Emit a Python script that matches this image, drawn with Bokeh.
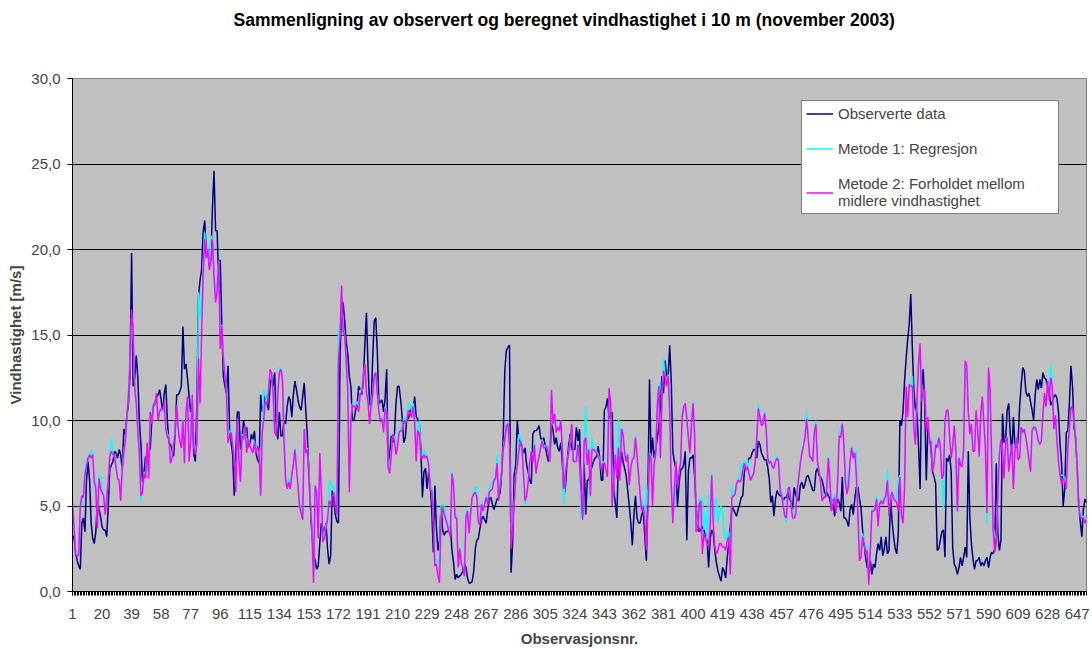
from bokeh.plotting import figure
from bokeh.models import Range1d, FixedTicker, CustomJSTickFormatter, Legend, LegendItem, Title
from bokeh.embed import file_html
from bokeh.resources import INLINE

title_text = "Sammenligning av observert og beregnet vindhastighet i 10 m (november 2003)"
x_label = "Observasjonsnr."
y_label = "Vindhastighet [m/s]"
series_names = ["Observerte data", "Metode 1: Regresjon",
                "Metode 2: Forholdet mellom\nmidlere vindhastighet"]
x_tick_values = [1, 20, 39, 58, 77, 96, 115, 134, 153, 172, 191, 210, 229, 248, 267, 286,
                 305, 324, 343, 362, 381, 400, 419, 438, 457, 476, 495, 514, 533, 552, 571,
                 590, 609, 628, 647]
y_tick_values = [0, 5, 10, 15, 20, 25, 30]

observed = [
    3.3, 3.1, 2.3, 1.8, 1.5, 1.3, 4.0, 4.3, 3.5, 6.5,
    7.6, 6.5, 4.0, 3.1, 2.8, 3.5, 5.3, 4.8, 4.4, 3.8,
    3.6, 3.6, 3.2, 5.0, 7.2, 7.4, 7.6, 8.2, 8.1, 7.8,
    8.3, 8.0, 7.1, 9.5, 9.2, 10.3, 11.0, 12.8, 19.8, 12.0,
    12.5, 13.8, 12.5, 10.0, 8.6, 6.4, 7.0, 7.9, 7.4, 8.1,
    8.4, 10.0, 10.8, 11.1, 11.3, 11.5, 11.8, 11.2, 10.5, 11.6,
    12.1, 10.0, 8.7, 8.6, 8.3, 7.9, 9.3, 11.5, 11.5, 11.7,
    12.0, 15.5, 13.0, 13.3, 12.4, 11.4, 10.5, 10.6, 8.0, 7.6,
    11.2, 17.2, 18.2, 18.8, 21.0, 21.7, 19.8, 20.0, 19.0, 19.5,
    22.5, 24.6, 21.1, 21.1, 18.0, 19.4, 15.5, 12.6, 12.0, 11.6,
    13.2, 9.5, 8.7, 8.0, 5.6, 8.0, 10.5, 10.5, 8.3, 9.0,
    10.0, 9.4, 9.6, 8.5, 8.6, 9.2, 8.9, 9.4, 8.1, 7.7,
    7.5, 11.5, 10.5, 11.0, 11.5, 11.1, 10.6, 12.0, 12.5, 12.0,
    12.8, 9.7, 8.9, 10.5, 9.1, 9.1, 10.0, 9.8, 10.8, 11.4,
    11.2, 10.2, 11.5, 12.3, 11.8, 11.2, 10.8, 10.6, 11.4, 12.2,
    10.6, 9.1, 7.0, 5.0, 3.2, 2.2, 1.8, 1.3, 1.5, 2.8,
    4.0, 3.7, 3.5, 4.0, 2.5, 1.6, 2.1, 5.9, 5.4, 4.5,
    4.1, 4.0, 13.5, 16.8, 16.9, 15.8, 14.6, 13.9, 12.6, 12.0,
    10.0, 10.0, 10.6, 10.9, 12.0, 11.8, 11.5, 12.3, 14.5, 16.3,
    13.2, 11.0, 10.8, 13.6, 15.8, 16.0, 14.0, 11.0, 11.1, 11.2,
    10.5, 11.3, 13.0, 7.5, 8.1, 9.1, 8.7, 9.2, 11.0, 12.0,
    12.0, 11.2, 10.2, 8.7, 9.0, 10.2, 10.1, 10.5, 10.8, 10.5,
    11.4, 10.2, 10.1, 9.8, 8.4, 5.5, 7.0, 7.2, 6.0, 7.0,
    6.3, 4.8, 2.3, 6.2, 3.7, 2.4, 3.0, 5.0, 3.6, 3.3,
    3.5, 3.5, 3.6, 3.8, 2.4, 1.7, 0.7, 1.0, 0.8, 0.9,
    1.0, 1.2, 1.6, 1.4, 0.8, 0.5, 0.5, 0.6, 1.2, 2.5,
    3.0, 3.1, 3.7, 4.2, 4.4, 4.2, 4.0, 4.8, 5.4, 5.5,
    5.1, 4.8, 5.1, 5.4, 5.5, 5.8, 7.0, 9.2, 13.0, 14.1,
    14.3, 14.4, 1.1, 2.8, 6.8, 7.4, 10.0, 8.8, 8.8, 8.4,
    8.1, 8.4, 7.4, 7.0, 6.5, 6.3, 9.2, 9.4, 9.4, 9.5,
    9.7, 9.0, 8.8, 9.0, 8.5, 8.0, 7.6, 8.0, 9.8, 9.4,
    8.6, 9.0, 8.4, 8.2, 8.7, 7.5, 5.5, 6.2, 7.6, 8.5,
    9.2, 8.3, 8.3, 8.3, 9.6, 8.8, 9.5, 6.0, 4.4, 7.5,
    4.5, 6.5, 6.5, 7.0, 7.3, 7.6, 7.8, 7.9, 8.5, 7.8,
    6.5, 6.5, 10.6, 10.8, 11.3, 10.2, 10.2, 10.5, 5.9, 5.2,
    4.3, 7.7, 6.9, 8.2, 7.6, 7.2, 6.8, 5.9, 5.0, 4.0,
    2.7, 4.5, 5.6, 4.3, 4.0, 4.0, 4.5, 4.7, 3.2, 1.8,
    5.9, 12.4, 7.9, 9.0, 7.8, 8.3, 9.0, 9.6, 10.7, 12.6,
    11.6, 13.5, 12.6, 12.6, 14.4, 12.3, 8.2, 7.6, 7.2, 5.0,
    6.3, 7.1, 7.2, 7.4, 8.2, 3.0, 7.0, 7.8, 7.8, 8.0,
    6.8, 4.9, 4.1, 3.5, 3.6, 3.8, 3.6, 3.2, 3.1, 1.4,
    3.1, 3.6, 3.4, 2.4, 1.7, 1.2, 0.9, 0.6, 1.4, 1.2,
    0.8, 2.0, 2.8, 3.8, 5.0, 4.8, 4.6, 4.4, 4.8, 5.1,
    5.5, 5.6, 7.0, 7.3, 7.5, 7.8, 7.8, 8.1, 8.3, 8.3,
    7.8, 8.8, 8.6, 8.1, 7.9, 7.7, 7.7, 7.3, 6.6, 5.2,
    5.6, 4.4, 5.4, 5.9, 5.7, 5.6, 5.6, 5.3, 5.5, 5.5,
    5.8, 5.4, 5.3, 4.8, 6.1, 5.7, 5.4, 5.3, 6.2, 6.4,
    6.0, 6.3, 6.7, 6.8, 6.5, 6.2, 5.9, 5.9, 7.0, 7.2,
    6.8, 6.7, 6.5, 6.1, 5.5, 5.8, 5.6, 5.4, 4.8, 5.4,
    4.4, 5.1, 5.4, 5.2, 4.7, 6.7, 4.3, 4.3, 4.1, 3.8,
    4.8, 5.1, 4.5, 5.4, 6.1, 6.1, 5.4, 4.9, 3.6, 2.8,
    2.0, 1.4, 1.4, 1.8, 1.0, 1.6, 1.4, 2.2, 2.8, 2.4,
    3.2, 2.1, 2.5, 3.2, 2.2, 2.4, 5.5, 4.1, 3.2, 2.5,
    2.2, 3.4, 10.0, 9.7, 10.5, 12.3, 13.6, 14.7, 15.6, 17.4,
    14.3, 11.7, 10.7, 10.5, 8.5, 6.0, 12.0, 13.0, 10.9, 6.5,
    9.6, 9.0, 8.4, 7.0, 6.7, 6.3, 2.4, 2.5, 3.0, 3.5,
    3.6, 2.0, 7.8, 7.6, 8.0, 7.0, 2.5, 1.6, 1.4, 1.0,
    1.4, 2.0, 1.5, 2.0, 2.6, 2.0, 8.2, 4.3, 2.8, 1.9,
    1.3, 1.8, 1.8, 2.0, 1.5, 1.7, 1.5, 1.8, 2.0, 1.4,
    2.0, 2.3, 2.2, 2.5, 7.5, 3.4, 2.4, 3.0, 10.4, 8.7,
    8.9, 10.6, 11.0, 9.2, 8.0, 10.2, 8.5, 8.4, 8.8, 10.8,
    12.1, 13.1, 12.9, 11.7, 11.4, 11.6, 11.1, 10.6, 10.0, 11.5,
    12.4, 11.8, 12.4, 11.9, 12.8, 12.5, 12.4, 12.0, 11.7, 10.9,
    11.1, 11.4, 11.5, 11.3, 10.5, 8.6, 7.5, 5.0, 6.0, 9.3,
    9.4, 11.0, 13.2, 12.0, 9.6, 9.0, 7.3, 5.0, 4.1, 3.2,
    4.8, 5.4, 5.2,
]

metode1 = [
    5.0, 3.9, 2.3, 2.2, 2.3, 5.2, 5.0, 5.7, 7.2, 7.6,
    7.9, 7.8, 8.3, 7.8, 6.6, 6.2, 4.0, 6.8, 6.7, 5.9,
    5.7, 4.7, 5.5, 6.6, 8.0, 8.9, 8.1, 7.8, 7.3, 6.8,
    6.6, 5.5, 7.4, 8.2, 8.8, 10.4, 11.4, 13.2, 16.0, 15.0,
    12.0, 11.1, 9.5, 8.2, 5.3, 5.9, 7.0, 6.8, 8.7, 6.9,
    10.6, 9.9, 10.8, 11.0, 11.5, 10.2, 10.6, 10.7, 10.5, 11.0,
    9.6, 9.2, 9.1, 7.7, 7.9, 8.7, 9.4, 10.8, 9.6, 8.9,
    8.6, 10.1, 7.7, 10.4, 11.3, 7.8, 8.9, 11.4, 8.5, 8.2,
    8.8, 17.5, 16.0, 17.0, 19.0, 21.0, 19.6, 20.1, 18.9, 20.8,
    20.6, 18.6, 17.0, 18.4, 19.3, 14.5, 15.6, 13.8, 12.7, 11.8,
    9.3, 9.3, 9.5, 8.7, 7.9, 6.0, 10.0, 7.9, 6.6, 9.2,
    9.0, 9.7, 8.3, 9.0, 8.6, 8.4, 8.3, 8.8, 8.2, 8.6,
    8.2, 5.8, 9.4, 11.8, 11.5, 11.0, 11.7, 12.9, 12.7, 11.5,
    9.4, 9.3, 11.7, 13.1, 13.0, 12.3, 9.0, 6.8, 6.0, 6.6,
    6.2, 6.9, 7.5, 8.4, 7.3, 6.4, 5.2, 4.8, 4.2, 9.4,
    8.3, 8.4, 6.8, 5.2, 3.7, 0.9, 6.1, 5.9, 3.3, 8.0,
    5.9, 3.1, 3.3, 3.9, 4.4, 6.3, 6.5, 6.0, 6.2, 5.4,
    4.7, 15.3, 14.9, 17.5, 15.3, 15.0, 13.6, 12.0, 6.3, 10.1,
    11.0, 10.9, 11.0, 11.1, 10.7, 11.8, 11.7, 12.7, 13.2, 11.8,
    11.2, 10.0, 11.0, 11.6, 12.5, 12.8, 11.7, 10.6, 10.0, 10.2,
    9.5, 10.8, 10.5, 7.4, 7.1, 8.2, 9.3, 9.0, 8.2, 8.7,
    9.4, 9.6, 9.5, 10.2, 10.0, 10.2, 11.0, 10.9, 10.6, 11.0,
    10.2, 7.8, 9.5, 10.0, 8.0, 8.0, 8.3, 8.0, 8.0, 7.6,
    6.1, 6.0, 4.4, 1.9, 1.9, 1.6, 2.0, 5.1, 5.1, 5.0,
    4.4, 4.1, 3.7, 3.5, 7.0, 6.4, 4.5, 4.5, 1.7, 2.6,
    1.8, 1.6, 1.2, 4.5, 4.8, 3.6, 4.7, 5.6, 5.8, 6.1,
    6.1, 4.2, 4.1, 5.2, 4.8, 5.2, 5.6, 5.3, 6.0, 6.3,
    6.3, 6.6, 6.7, 8.0, 5.5, 6.3, 7.1, 8.4, 9.0, 9.8,
    9.9, 8.6, 2.8, 4.0, 5.1, 6.9, 7.4, 9.2, 9.0, 8.6,
    6.9, 5.1, 5.7, 6.5, 7.6, 8.3, 7.6, 8.7, 7.0, 7.6,
    8.0, 8.5, 8.9, 8.5, 8.5, 8.6, 8.1, 7.7, 11.5, 9.9,
    10.3, 9.4, 9.7, 9.5, 10.0, 8.3, 5.1, 7.1, 7.7, 8.1,
    8.9, 9.7, 7.7, 7.7, 7.8, 8.7, 7.6, 4.3, 4.4, 8.9,
    10.8, 7.6, 8.4, 5.5, 9.0, 8.4, 8.3, 8.2, 8.0, 7.8,
    7.2, 7.6, 7.6, 7.2, 6.8, 11.6, 11.0, 5.2, 6.6, 8.1,
    6.8, 10.1, 6.6, 9.6, 9.3, 8.2, 7.7, 8.1, 6.3, 7.4,
    7.8, 7.9, 9.1, 8.0, 6.9, 5.8, 4.9, 5.2, 4.3, 6.2,
    5.0, 8.1, 7.9, 5.2, 7.6, 8.1, 11.0, 12.2, 8.0, 11.3,
    13.6, 12.7, 12.1, 12.7, 10.7, 6.4, 4.2, 5.2, 7.7, 6.2,
    7.1, 7.6, 10.1, 10.7, 11.0, 10.2, 9.0, 8.2, 9.9, 11.1,
    9.3, 3.7, 3.8, 5.4, 5.4, 5.5, 3.6, 4.7, 3.0, 5.6,
    5.6, 6.9, 4.2, 4.5, 5.5, 4.0, 4.5, 5.0, 4.8, 3.5,
    3.0, 3.4, 3.5, 1.5, 6.1, 5.8, 5.8, 6.4, 6.6, 6.6,
    7.5, 7.3, 7.6, 7.2, 7.7, 7.0, 6.6, 6.8, 7.0, 7.7,
    9.1, 11.0, 10.3, 9.8, 9.9, 10.5, 9.6, 7.9, 7.6, 7.7,
    7.4, 7.3, 7.7, 7.9, 7.7, 6.1, 5.8, 5.2, 4.6, 4.0,
    6.1, 6.2, 5.2, 4.5, 4.5, 4.7, 6.0, 6.8, 7.6, 8.2,
    8.6, 9.1, 10.5, 9.1, 8.0, 7.9, 7.7, 9.4, 10.0, 7.7,
    7.1, 6.5, 5.5, 5.7, 5.6, 6.1, 7.9, 6.6, 4.9, 5.3,
    5.7, 4.8, 6.6, 9.5, 9.6, 9.8, 8.7, 6.6, 5.8, 7.1,
    7.7, 8.5, 7.9, 8.2, 8.2, 4.8, 2.1, 2.3, 3.4, 3.0,
    2.5, 2.6, 0.9, 2.7, 4.8, 4.8, 4.9, 5.6, 4.0, 5.2,
    5.4, 5.2, 5.5, 5.8, 7.1, 4.6, 5.6, 5.9, 5.5, 5.4,
    5.4, 6.5, 6.8, 4.7, 4.2, 6.1, 11.8, 10.3, 12.0, 12.1,
    12.6, 9.6, 8.7, 11.1, 13.1, 14.3, 11.2, 11.7, 11.8, 9.8,
    10.1, 8.8, 8.9, 7.2, 7.6, 8.7, 8.5, 9.1, 8.6, 6.8,
    4.8, 10.0, 10.5, 10.5, 9.1, 7.9, 8.6, 9.6, 8.3, 4.6,
    7.9, 7.5, 7.4, 8.4, 13.2, 13.0, 10.4, 9.3, 9.8, 8.3,
    8.3, 10.5, 9.5, 8.0, 10.3, 11.3, 9.9, 8.5, 4.0, 12.9,
    11.7, 7.8, 3.8, 3.2, 3.0, 5.9, 8.1, 8.9, 8.3, 6.8,
    8.9, 9.0, 7.1, 8.0, 8.6, 6.2, 8.5, 9.0, 7.8, 7.9,
    9.6, 9.4, 9.5, 9.1, 8.5, 7.8, 7.2, 9.4, 9.7, 9.6,
    9.4, 8.9, 8.7, 8.9, 10.4, 11.5, 10.8, 12.2, 11.3, 13.3,
    11.9, 9.5, 10.2, 8.9, 7.7, 6.8, 6.8, 6.8, 6.6, 6.2,
    8.5, 9.6, 10.7, 10.6, 10.0, 8.9, 7.5, 4.6, 4.6, 4.4,
    4.4, 4.1, 4.3,
]

metode2 = [
    5.2, 3.7, 2.1, 2.1, 2.1, 5.0, 5.6, 5.5, 6.8, 7.3,
    7.8, 8.0, 7.8, 8.0, 6.4, 6.0, 3.7, 6.6, 6.0, 5.8,
    5.6, 4.5, 5.4, 6.5, 7.9, 8.2, 8.0, 8.0, 7.2, 6.6,
    6.5, 5.3, 7.2, 8.1, 8.9, 10.3, 11.5, 13.5, 16.5, 15.1,
    11.9, 11.0, 9.4, 8.0, 5.6, 5.8, 6.9, 6.6, 8.7, 6.6,
    10.5, 9.8, 10.9, 10.9, 11.6, 10.0, 10.5, 10.7, 10.6, 11.1,
    9.5, 9.0, 9.0, 7.5, 7.8, 8.6, 9.3, 10.9, 9.5, 8.8,
    8.4, 10.0, 7.5, 10.5, 11.4, 7.6, 8.8, 11.5, 8.4, 8.0,
    8.6, 13.6, 11.0, 15.0, 18.5, 20.6, 19.5, 20.0, 18.8, 19.4,
    20.6, 18.4, 16.9, 17.5, 19.4, 14.2, 15.5, 13.6, 12.6, 11.6,
    8.7, 9.1, 9.3, 8.5, 7.7, 5.8, 10.1, 7.7, 6.4, 9.1,
    8.9, 9.7, 8.1, 8.9, 8.5, 8.3, 8.1, 8.7, 8.1, 8.5,
    8.1, 5.6, 9.3, 10.1, 11.1, 10.9, 11.6, 13.0, 12.8, 11.6,
    9.3, 9.1, 11.6, 12.8, 13.0, 12.4, 8.9, 6.6, 6.0, 6.4,
    6.0, 6.8, 7.4, 8.3, 7.2, 6.2, 5.0, 4.6, 4.2, 9.5,
    8.1, 8.3, 6.6, 5.0, 3.5, 0.5, 6.2, 5.8, 3.1, 8.1,
    5.8, 2.9, 3.1, 3.7, 4.2, 5.3, 5.1, 5.5, 5.8, 5.0,
    4.5, 13.5, 14.8, 17.9, 15.2, 15.0, 13.5, 11.8, 5.8, 10.0,
    10.9, 10.8, 10.8, 10.9, 10.5, 11.6, 11.5, 12.6, 13.3, 11.6,
    11.1, 9.8, 10.8, 11.5, 12.6, 12.8, 11.6, 10.5, 9.9, 10.1,
    9.3, 10.7, 10.4, 7.2, 6.9, 8.0, 9.2, 8.8, 8.0, 8.5,
    9.3, 9.4, 9.4, 10.0, 9.8, 10.0, 10.6, 10.4, 10.2, 10.8,
    9.9, 7.6, 9.4, 9.2, 7.8, 7.8, 8.0, 7.8, 7.9, 7.4,
    5.9, 5.9, 4.2, 1.5, 1.6, 0.9, 0.5, 4.4, 4.9, 4.5,
    4.2, 3.9, 3.5, 3.2, 6.9, 6.2, 4.3, 4.3, 1.4, 2.5,
    1.6, 1.4, 0.9, 4.3, 4.7, 3.4, 4.6, 5.5, 5.7, 5.8,
    5.5, 4.0, 3.9, 5.1, 4.7, 5.1, 5.5, 5.1, 5.8, 5.9,
    6.0, 6.5, 6.6, 7.5, 5.3, 6.2, 7.0, 8.3, 8.9, 9.7,
    9.8, 8.5, 2.5, 3.8, 5.0, 6.8, 7.3, 8.2, 8.8, 8.5,
    6.8, 5.3, 5.6, 6.4, 7.5, 8.2, 7.5, 8.6, 6.9, 7.5,
    7.9, 8.4, 8.8, 8.4, 8.4, 8.5, 8.0, 7.6, 11.8, 9.8,
    10.4, 9.3, 9.6, 9.4, 10.0, 8.2, 6.0, 7.0, 7.6, 8.0,
    8.8, 9.8, 7.6, 7.6, 7.6, 8.6, 7.5, 6.0, 4.2, 8.8,
    9.0, 7.4, 8.3, 5.6, 8.3, 8.3, 8.2, 8.1, 7.9, 7.7,
    7.1, 7.5, 7.5, 7.1, 6.7, 11.9, 11.0, 5.0, 6.5, 8.0,
    6.6, 8.4, 6.5, 9.5, 9.2, 8.1, 7.6, 8.0, 6.2, 7.3,
    7.7, 7.8, 9.0, 7.9, 6.8, 5.6, 4.7, 5.0, 4.1, 2.4,
    4.8, 8.0, 7.8, 5.0, 7.5, 8.0, 10.8, 12.0, 7.8, 11.2,
    12.9, 12.6, 12.0, 12.6, 10.6, 6.2, 4.0, 6.0, 7.6, 6.1,
    7.0, 7.5, 10.2, 10.8, 11.0, 10.1, 9.0, 8.1, 9.8, 11.0,
    9.2, 3.5, 3.6, 5.1, 5.3, 2.2, 3.4, 3.1, 2.8, 2.6,
    3.8, 6.8, 4.0, 2.6, 2.2, 2.4, 2.8, 2.8, 2.6, 2.6,
    2.4, 3.0, 3.2, 1.0, 5.5, 5.6, 5.7, 6.3, 6.5, 6.4,
    6.5, 7.1, 7.5, 7.1, 7.3, 6.9, 6.5, 6.7, 6.9, 7.6,
    9.0, 10.7, 10.2, 9.7, 9.8, 10.4, 9.5, 7.8, 7.5, 7.6,
    7.3, 7.2, 7.6, 7.8, 7.6, 5.9, 5.6, 5.0, 4.4, 4.3,
    6.0, 6.1, 5.0, 4.3, 4.3, 4.5, 5.9, 6.7, 7.5, 8.1,
    8.5, 9.0, 10.1, 9.0, 7.9, 7.8, 7.6, 9.3, 9.8, 7.6,
    7.0, 6.4, 5.3, 5.5, 5.5, 6.0, 7.8, 6.5, 4.7, 5.1,
    5.5, 4.6, 6.5, 9.1, 9.0, 9.8, 8.6, 6.4, 5.7, 6.2,
    7.6, 8.4, 7.8, 8.1, 6.8, 4.6, 1.8, 2.0, 3.2, 2.8,
    2.2, 2.4, 0.4, 2.4, 4.7, 4.7, 4.8, 5.4, 3.8, 5.1,
    5.3, 5.1, 5.4, 5.6, 6.5, 4.4, 5.5, 5.8, 5.4, 5.3,
    5.2, 4.7, 6.7, 4.5, 4.0, 6.0, 12.0, 10.2, 12.1, 12.0,
    12.0, 9.5, 8.6, 11.2, 13.3, 14.5, 11.1, 11.8, 11.8, 9.3,
    10.2, 8.7, 8.8, 7.0, 7.5, 8.6, 8.4, 9.0, 8.5, 6.6,
    6.8, 10.0, 10.6, 10.6, 9.0, 7.8, 8.5, 9.7, 8.2, 4.7,
    7.8, 7.4, 7.3, 8.3, 13.5, 13.2, 10.5, 9.2, 9.8, 8.2,
    8.2, 10.6, 9.5, 7.9, 10.4, 11.4, 9.9, 8.4, 4.6, 13.1,
    11.8, 7.7, 3.6, 2.3, 2.8, 5.7, 8.0, 8.9, 8.2, 6.6,
    8.8, 9.0, 7.0, 7.9, 8.6, 6.0, 8.4, 9.0, 7.7, 7.8,
    9.6, 9.3, 9.5, 9.0, 8.4, 7.7, 7.0, 9.4, 9.6, 9.6,
    9.3, 8.8, 8.6, 8.8, 10.4, 11.6, 10.8, 12.3, 11.2, 12.5,
    12.0, 9.5, 10.3, 8.8, 7.6, 6.8, 6.3, 6.6, 6.4, 6.0,
    8.4, 9.6, 10.8, 10.7, 10.0, 8.8, 7.4, 5.0, 4.3, 4.3,
    4.3, 4.0, 4.2,
]

FONT = "Liberation Sans"
n = len(observed)
obs_x = list(range(1, n + 1))

p = figure(width=1092, height=649, output_backend="svg", toolbar_location=None, title=None,
           x_range=Range1d(1, n), y_range=Range1d(0, 30),
           min_border_left=72, min_border_right=6, min_border_top=78, min_border_bottom=56)
p.background_fill_color = "#C0C0C0"
p.border_fill_color = "white"
p.outline_line_color = "#808080"
p.outline_line_width = 1

# title as first line of a three-line block, so it sits well above the plot frame
p.add_layout(Title(text=title_text + "\n \n ", align="left", offset=161, standoff=0,
                   text_font=FONT, text_font_size="17.5px", text_font_style="bold",
                   text_line_height=1.21, text_color="black"), "above")

xa = p.xaxis[0]
xa.ticker = FixedTicker(ticks=x_tick_values, minor_ticks=obs_x)
xa.axis_label = x_label
xa.axis_label_text_font = FONT
xa.axis_label_text_font_size = "15px"
xa.axis_label_text_font_style = "bold"
xa.axis_label_standoff = 8
xa.major_label_text_font = FONT
xa.major_label_text_font_size = "15px"
xa.major_label_standoff = 13
xa.major_tick_out = 4
xa.major_tick_in = 0
xa.minor_tick_out = 4
xa.minor_tick_in = 0
xa.axis_line_color = "black"
xa.major_tick_line_color = "black"
xa.minor_tick_line_color = "black"

ya = p.yaxis[0]
ya.ticker = FixedTicker(ticks=y_tick_values)
ya.formatter = CustomJSTickFormatter(code="return tick.toFixed(1).replace('.', ',');")
ya.axis_label = y_label
ya.axis_label_text_font = FONT
ya.axis_label_text_font_size = "15px"
ya.axis_label_text_font_style = "bold"
ya.axis_label_standoff = 4
ya.major_label_text_font = FONT
ya.major_label_text_font_size = "15px"
ya.major_label_standoff = 7
ya.major_tick_out = 5
ya.major_tick_in = 0
ya.minor_tick_line_color = None
ya.axis_line_color = "black"
ya.major_tick_line_color = "black"

p.xgrid.visible = False
p.ygrid.ticker = FixedTicker(ticks=y_tick_values[1:-1])
p.ygrid.grid_line_color = "black"
p.ygrid.grid_line_width = 1

r_obs = p.line(obs_x, observed, line_color="#000080", line_width=1.5)
r_m1 = p.line(obs_x, metode1, line_color="#00FFFF", line_width=1.5)
r_m2 = p.line(obs_x, metode2, line_color="#FF00FF", line_width=1.5)

legend = Legend(items=[LegendItem(label=series_names[0], renderers=[r_obs]),
                       LegendItem(label=series_names[1], renderers=[r_m1]),
                       LegendItem(label=series_names[2], renderers=[r_m2])],
                location=(729, 377), orientation="vertical",
                border_line_color="black", border_line_width=1,
                background_fill_color="white", background_fill_alpha=1.0,
                label_text_font=FONT, label_text_font_size="15px",
                glyph_width=27, glyph_height=17, label_height=17, label_width=216,
                label_standoff=5, spacing=18, padding=4, margin=0)
p.add_layout(legend)

open("out.html", "w").write(file_html(p, INLINE))
